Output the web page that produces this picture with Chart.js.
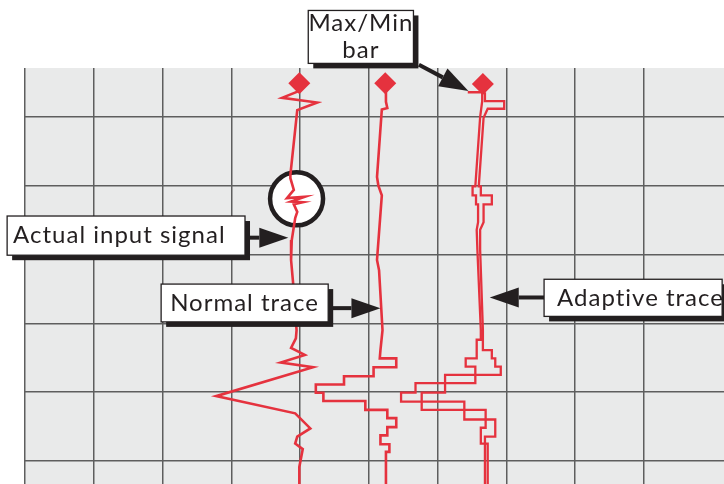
<!DOCTYPE html>
<html>
<head>
<meta charset="utf-8">
<script src="https://cdn.jsdelivr.net/npm/chart.js@4.4.0/dist/chart.umd.min.js"></script>
<style>
  html, body { margin: 0; padding: 0; background: #fff; }
  #chart { display: block; }
</style>
</head>
<body>
<canvas id="chart" width="724" height="484"></canvas>
<script>
// x = position across the chart span (10 per division)
// y = elapsed time down the paper (10 per division)

// Actual input signal
const inputX = [39.9, 37.4, 42.5, 39.6, 38.6, 38.6, 39.1, 38.1, 40.7, 38.7, 40.4, 39.1, 39.6, 39.3, 38.8, 38.7, 39.0, 39.5, 39.4, 38.7, 40.7, 37.2, 41.9, 27.8, 39.3, 41.5, 39.6, 39.3, 40.4, 39.9, 39.9]
const inputY = [6.2, 7.2, 7.9, 9.0, 18.4, 18.9, 20.6, 21.8, 21.6, 22.3, 22.4, 22.7, 23.8, 24.7, 27.9, 30.8, 34.2, 41.0, 42.2, 43.6, 44.6, 45.7, 46.4, 50.6, 53.1, 55.3, 56.5, 57.5, 58.3, 60.9, 63.4]

// Normal trace (one sample per chart pixel)
const normalX = [52.5, 52.5, 52.7, 51.9, 51.2, 51.4, 51.9, 51.2, 51.5, 52.0, 51.7, 51.6, 54.0, 54.0, 50.7, 50.7, 46.4, 46.4, 42.3, 42.3, 43.4, 43.4, 49.5, 49.5, 52.7, 52.7, 54.0, 54.0, 52.7, 52.7, 51.7, 51.7, 53.0, 53.0, 52.5, 52.5]
const normalY = [6.1, 7.8, 8.7, 8.9, 18.7, 20.0, 21.4, 30.8, 32.3, 41.0, 43.9, 45.1, 45.1, 46.4, 46.4, 47.7, 47.7, 48.9, 48.9, 50.1, 50.1, 51.3, 51.3, 52.6, 52.6, 53.8, 53.8, 55.1, 55.1, 56.3, 56.3, 57.6, 57.6, 58.7, 58.7, 63.4]

// Adaptive trace, drawn as its min and max envelopes
const adaptMinX = [64.4, 66.5, 66.5, 66.2, 65.5, 65.1, 65.1, 65.6, 65.6, 65.9, 65.9, 65.7, 65.8, 66.3, 66.3, 65.7, 65.7, 64.1, 64.1, 65.5, 65.5, 56.8, 56.8, 54.7, 54.7, 63.9, 63.9, 68.4, 68.4, 66.9, 66.9]
const adaptMinY = [6.4, 6.4, 7.7, 10.0, 20.1, 20.1, 21.4, 21.4, 22.7, 22.7, 25.3, 26.4, 29.3, 41.0, 42.4, 42.4, 45.1, 45.1, 46.3, 46.3, 48.7, 48.7, 50.1, 50.1, 51.4, 51.4, 54.0, 54.0, 56.5, 56.5, 63.4]
const adaptMaxX = [66.9, 66.9, 69.7, 69.7, 67.3, 66.7, 66.0, 66.3, 66.3, 67.9, 67.9, 66.7, 66.7, 66.2, 66.2, 66.6, 66.6, 67.9, 67.9, 68.4, 68.4, 69.2, 69.2, 61.1, 61.1, 57.7, 57.7, 67.0, 67.0, 66.3, 66.3, 67.3, 67.3]
const adaptMaxY = [6.4, 7.7, 7.7, 8.8, 8.8, 10.1, 20.1, 20.1, 21.4, 21.4, 22.7, 22.7, 25.3, 26.4, 29.3, 41.0, 43.9, 43.9, 45.1, 45.1, 46.3, 46.3, 47.5, 47.5, 50.1, 50.1, 52.6, 52.6, 55.2, 55.2, 57.5, 57.5, 63.4]

// pen markers at the top of each trace
const markerX = [39.9, 52.4, 66.6]
const markerY = [5.1, 5.1, 5.2]

const RED = '#e5323e'
const INK = '#231f20'
const FONT_SIZE = 24
const FONT = FONT_SIZE + 'px Lato, "Open Sans", sans-serif'

const pts = (xs, ys) => xs.map((x, i) => ({ x, y: ys[i] }))

// callout boxes: box = [x0, y0, x1, y1], arrow runs from -> tip (chart units)
const callouts = [
  { lines: ['Max/Min', 'bar'], box: [41.2, -5.5, 56.5, 2.2], from: [57.3, 2.4], tip: [64.5, 6.2], align: 'center' },
  { lines: ['Actual input signal'], box: [-2.6, 24.4, 32.0, 30.1], from: [32.0, 27.55], tip: [38.3, 27.55], padX: 6 },
  { lines: ['Normal trace'], box: [19.8, 34.3, 44.1, 39.8], from: [44.1, 37.8], tip: [51.7, 37.8], padX: 9 },
  { lines: ['Adaptive trace'], box: [75.5, 33.6, 101.4, 39.0], from: [75.5, 36.25], tip: [67.6, 36.25], padX: 13 }
]
const ringCenter = [39.5, 21.9]

const paperBg = {
  id: 'paperBg',
  beforeDraw(chart) {
    const { ctx, chartArea: a } = chart
    ctx.save()
    ctx.fillStyle = '#fff'
    ctx.fillRect(0, 0, chart.width, chart.height)
    ctx.fillStyle = '#e9eaea'
    ctx.fillRect(a.left, a.top, a.right - a.left, a.bottom - a.top)
    ctx.restore()
  }
}

// circle highlighting the noise on the input signal
const ring = {
  id: 'ring',
  beforeDatasetsDraw(chart) {
    const { ctx, scales: { x, y } } = chart
    const cx = x.getPixelForValue(ringCenter[0])
    const cy = y.getPixelForValue(ringCenter[1])
    ctx.save()
    ctx.beginPath()
    ctx.arc(cx, cy, 26.5, 0, Math.PI * 2)
    ctx.fillStyle = '#fff'
    ctx.fill()
    ctx.lineWidth = 4.5
    ctx.strokeStyle = INK
    ctx.stroke()
    ctx.restore()
  }
}

function drawArrow(ctx, x0, y0, x1, y1) {
  const ang = Math.atan2(y1 - y0, x1 - x0)
  const len = 29, half = 10
  const bx = x1 - Math.cos(ang) * len
  const by = y1 - Math.sin(ang) * len
  ctx.beginPath()
  ctx.moveTo(x0, y0)
  ctx.lineTo(bx, by)
  ctx.lineWidth = 4
  ctx.strokeStyle = INK
  ctx.stroke()
  ctx.beginPath()
  ctx.moveTo(x1, y1)
  ctx.lineTo(bx - Math.sin(ang) * half, by + Math.cos(ang) * half)
  ctx.lineTo(bx + Math.sin(ang) * half, by - Math.cos(ang) * half)
  ctx.closePath()
  ctx.fillStyle = INK
  ctx.fill()
}

const calloutPlugin = {
  id: 'callouts',
  afterDatasetsDraw(chart) {
    const { ctx, scales: { x, y } } = chart
    ctx.save()
    callouts.forEach(c => {
      const x0 = x.getPixelForValue(c.box[0]), y0 = y.getPixelForValue(c.box[1])
      const x1 = x.getPixelForValue(c.box[2]), y1 = y.getPixelForValue(c.box[3])
      drawArrow(ctx, x.getPixelForValue(c.from[0]), y.getPixelForValue(c.from[1]),
        x.getPixelForValue(c.tip[0]), y.getPixelForValue(c.tip[1]))
      // drop shadow, then the box
      ctx.fillStyle = INK
      ctx.fillRect(x0 + 5, y0 + 5, x1 - x0, y1 - y0)
      ctx.fillStyle = '#fff'
      ctx.fillRect(x0, y0, x1 - x0, y1 - y0)
      ctx.lineWidth = 1.3
      ctx.strokeStyle = INK
      ctx.strokeRect(x0, y0, x1 - x0, y1 - y0)
      ctx.font = FONT
      ctx.letterSpacing = '1px'
      ctx.fillStyle = INK
      ctx.textBaseline = 'alphabetic'
      const midY = (y0 + y1) / 2
      const lh = 27.6
      c.lines.forEach((t, i) => {
        const by = midY + FONT_SIZE * 0.32 + (i - (c.lines.length - 1) / 2) * lh
        if (c.align === 'center') {
          ctx.textAlign = 'center'
          ctx.fillText(t, (x0 + x1) / 2, by)
        } else {
          ctx.textAlign = 'left'
          ctx.fillText(t, x0 + c.padX, by)
        }
      })
    })
    ctx.restore()
  }
}

const gridAxis = {
  type: 'linear',
  ticks: { display: false, stepSize: 10 },
  grid: { color: '#5e5e5e', lineWidth: 1.5, drawTicks: false },
  border: { display: false },
  afterBuildTicks: scale => {
    scale.ticks = scale.ticks.filter(t => Math.abs(t.value / 10 - Math.round(t.value / 10)) < 1e-6)
  }
}

const traceStyle = { showLine: true, borderColor: RED, pointRadius: 0, tension: 0, borderJoinStyle: 'miter' }

new Chart(document.getElementById('chart'), {
  type: 'scatter',
  data: {
    datasets: [
      { label: 'Actual input signal', data: pts(inputX, inputY), borderWidth: 2.6, ...traceStyle },
      { label: 'Normal trace', data: pts(normalX, normalY), borderWidth: 2.6, ...traceStyle },
      { label: 'Adaptive min', data: pts(adaptMinX, adaptMinY), borderWidth: 2.3, ...traceStyle },
      { label: 'Adaptive max', data: pts(adaptMaxX, adaptMaxY), borderWidth: 2.3, ...traceStyle },
      { label: 'Pens', data: pts(markerX, markerY), pointStyle: 'rectRot', pointRadius: 11, backgroundColor: RED, borderWidth: 0, clip: false }
    ]
  },
  options: {
    responsive: false,
    animation: false,
    layout: { autoPadding: false, padding: { left: 25, top: 68, right: 0, bottom: 0 } },
    plugins: { legend: { display: false }, tooltip: { enabled: false } },
    scales: {
      x: { ...gridAxis, min: 0, max: 101.67 },
      y: { ...gridAxis, reverse: true, min: 2.87, max: 63.38 }
    }
  },
  plugins: [paperBg, ring, calloutPlugin]
})
</script>
</body>
</html>
